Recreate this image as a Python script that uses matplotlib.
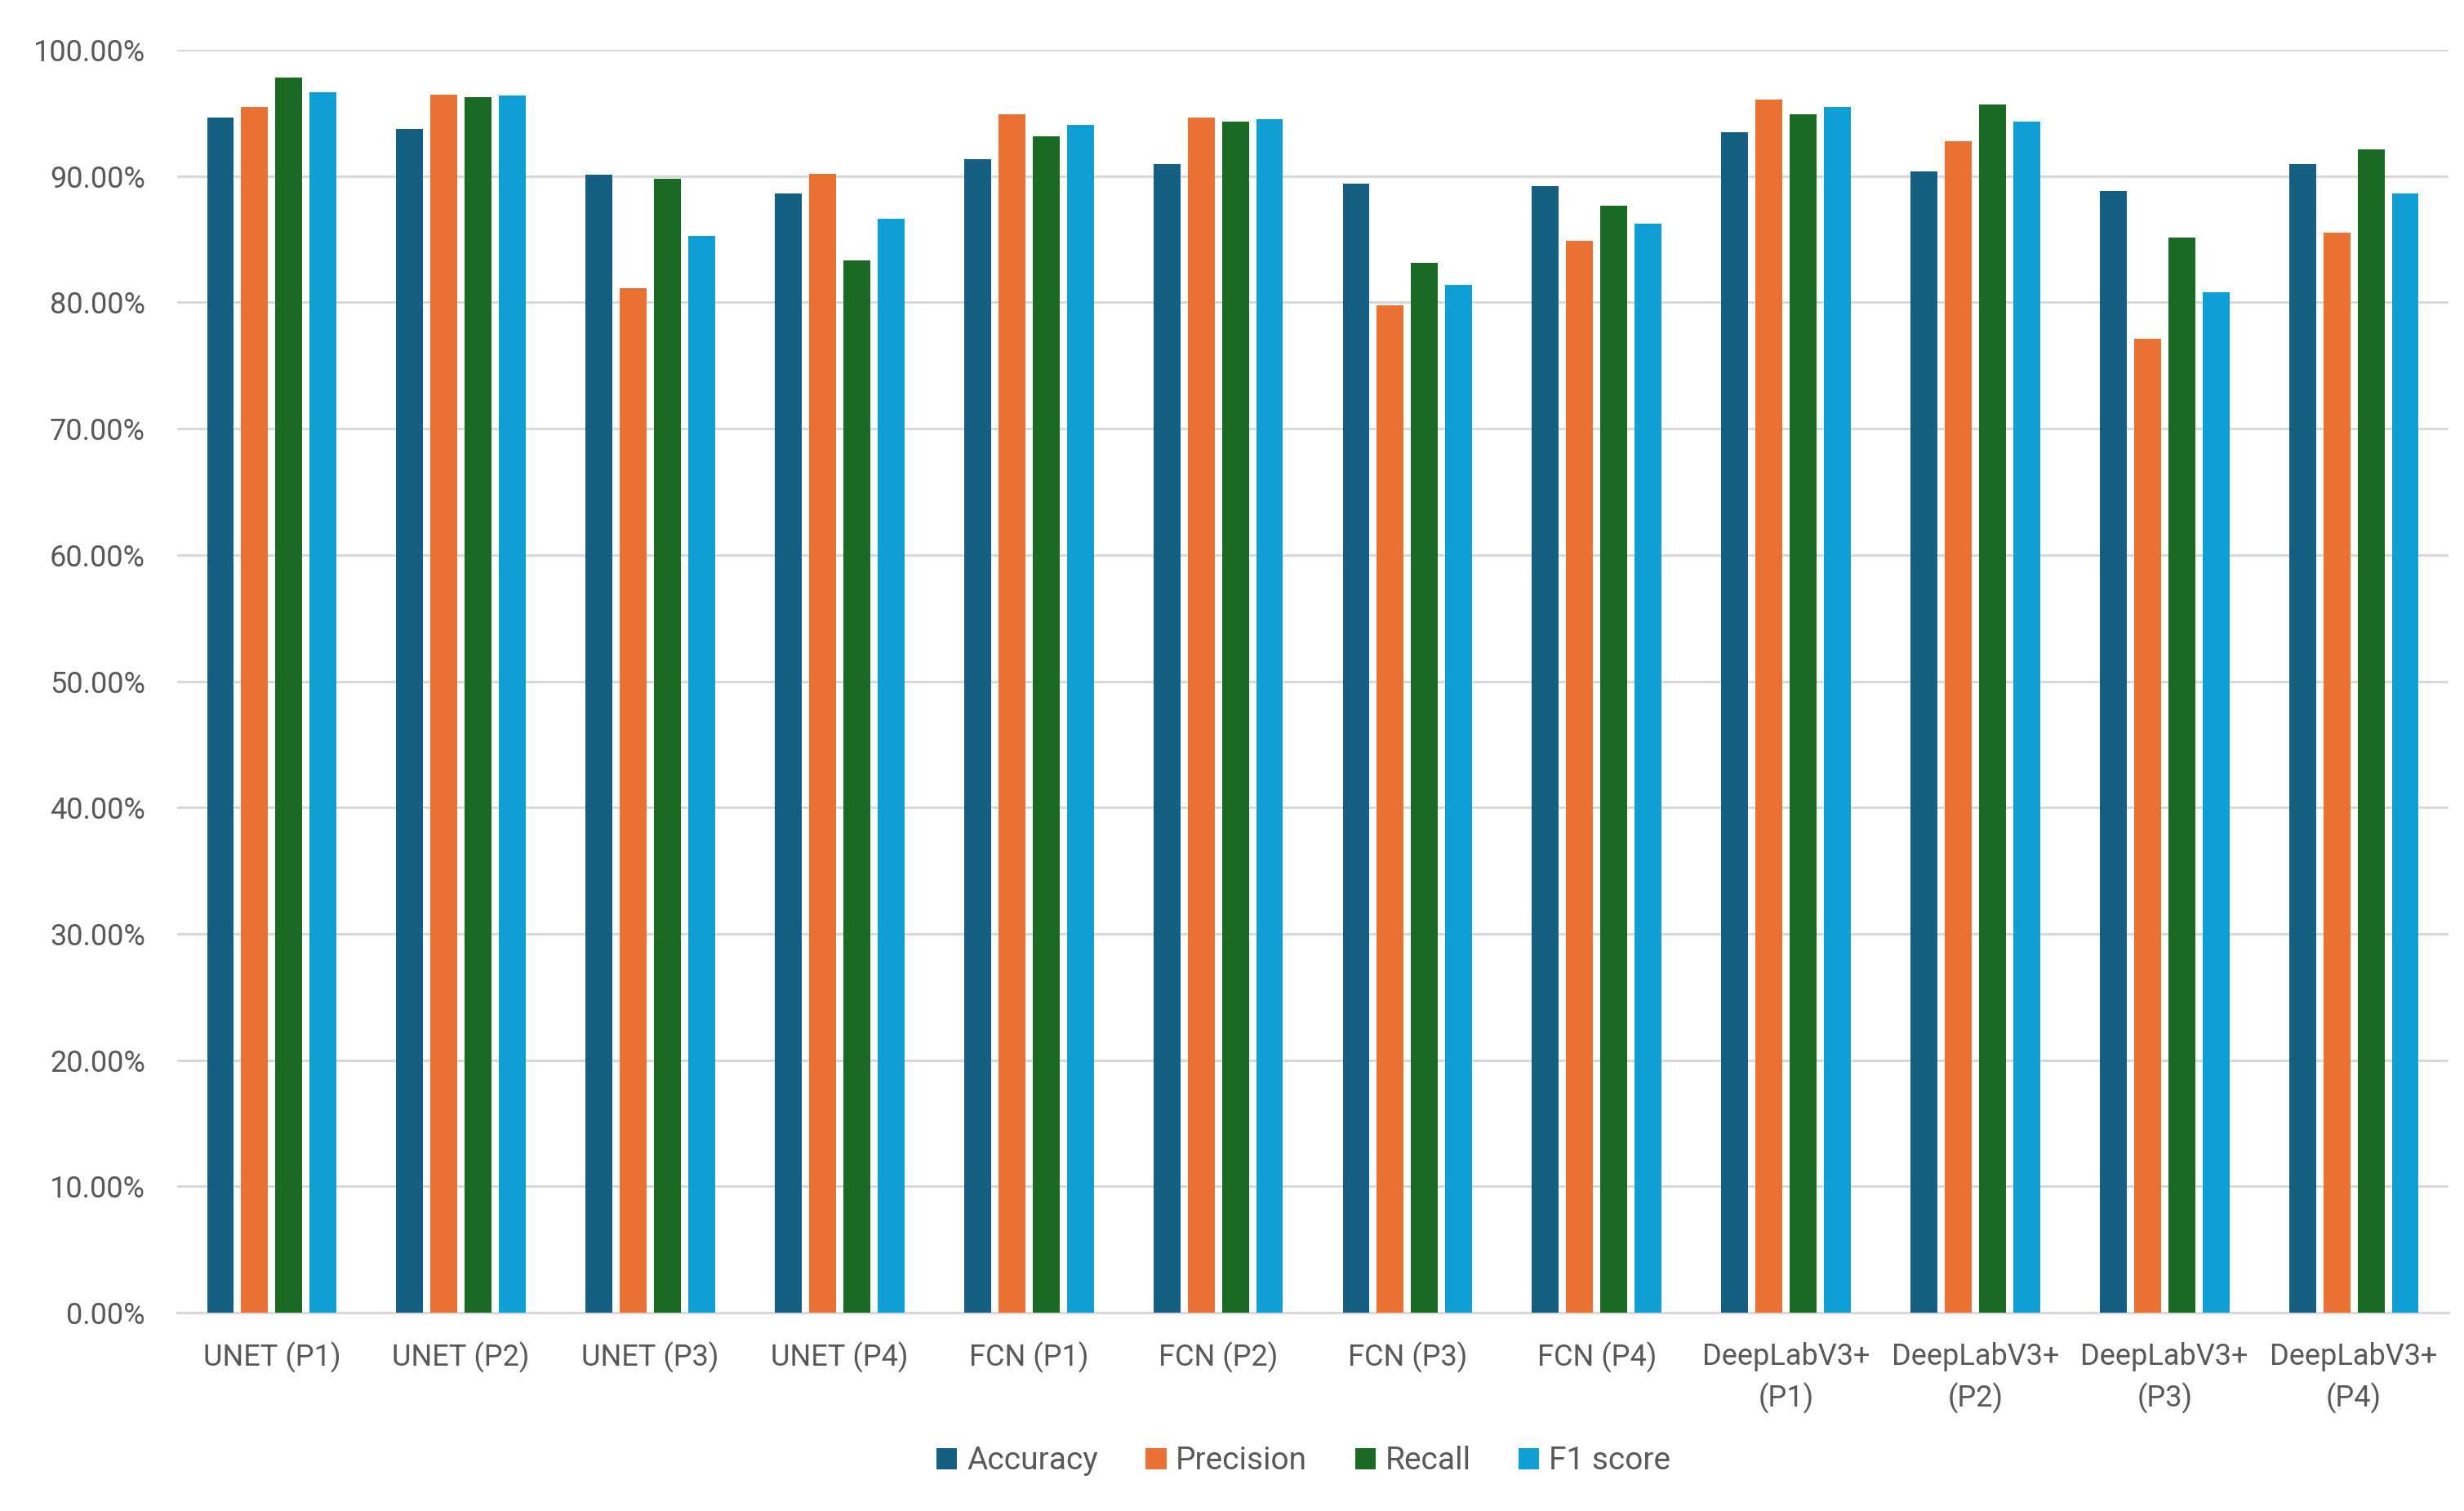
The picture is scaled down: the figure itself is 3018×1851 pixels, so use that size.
import matplotlib
matplotlib.use("Agg")
import matplotlib.pyplot as plt
import numpy as np

categories = ["UNET (P1)", "UNET (P2)", "UNET (P3)", "UNET (P4)",
              "FCN (P1)", "FCN (P2)", "FCN (P3)", "FCN (P4)",
              "DeepLabV3+\n(P1)", "DeepLabV3+\n(P2)", "DeepLabV3+\n(P3)", "DeepLabV3+\n(P4)"]
series_names = ["Accuracy", "Precision", "Recall", "F1 score"]
accuracy  = [94.67, 93.72, 90.11, 88.63, 91.35, 90.98, 89.41, 89.22, 93.50, 90.39, 88.83, 90.98]
precision = [95.48, 96.46, 81.11, 90.15, 94.91, 94.67, 79.80, 84.89, 96.07, 92.74, 77.11, 85.50]
recall    = [97.80, 96.26, 89.80, 83.35, 93.13, 94.30, 83.15, 87.65, 94.89, 95.67, 85.11, 92.15]
f1_score  = [96.65, 96.41, 85.28, 86.65, 94.09, 94.50, 81.39, 86.26, 95.48, 94.30, 80.78, 88.63]
y_ticks = [0, 10, 20, 30, 40, 50, 60, 70, 80, 90, 100]

colors = ["#156082", "#E97132", "#196B24", "#0F9ED5"]
text_color = "#595959"
grid_color = "#D9D9D9"

plt.rcParams['font.family'] = ['Roboto', 'DejaVu Sans']

fig = plt.figure(figsize=(15.09, 9.255), dpi=200)
ax = fig.add_axes([0.0719, 0.1313, 0.9218, 0.8357])

x = np.arange(len(categories))
step = 0.181
width = 0.142
data = [accuracy, precision, recall, f1_score]
for i, (name, vals) in enumerate(zip(series_names, data)):
    ax.bar(x + (i - 1.5) * step, vals, width=width, color=colors[i], label=name, zorder=3)

ax.set_xlim(-0.5, len(categories) - 0.5)
ax.set_ylim(0, 100)
ax.set_yticks(y_ticks)
ax.set_yticklabels([f"{v:.2f}%" for v in y_ticks])
ax.set_xticks(x)
ax.set_xticklabels(categories, linespacing=1.45)

ax.grid(axis='y', color=grid_color, linewidth=1.1, zorder=0)
ax.set_axisbelow(True)
for s in ['top', 'right', 'left']:
    ax.spines[s].set_visible(False)
ax.spines['bottom'].set_color(grid_color)
ax.spines['bottom'].set_linewidth(1.1)
ax.tick_params(axis='both', length=0, colors=text_color, labelsize=13)
ax.tick_params(axis='y', pad=14)
ax.tick_params(axis='x', pad=13)

fig.legend(loc='center', bbox_to_anchor=(0.529, 0.033), ncol=4, frameon=False,
           fontsize=14, labelcolor=text_color, handlelength=0.65, handleheight=0.65,
           handletextpad=0.3, columnspacing=1.5)

fig.savefig("out.png", dpi=200)
